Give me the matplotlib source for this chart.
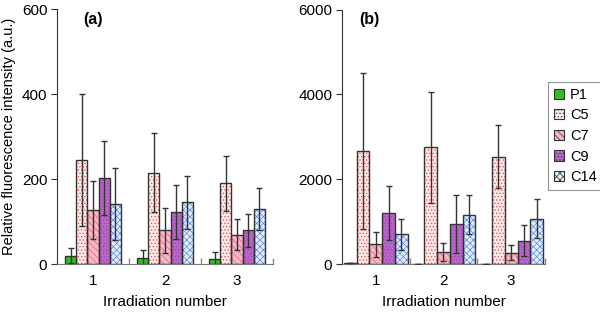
import matplotlib
matplotlib.use("Agg")
import matplotlib.pyplot as plt
from matplotlib.patches import Patch
import numpy as np

plt.rcParams['font.family'] = ['Liberation Sans', 'DejaVu Sans']
plt.rcParams['hatch.linewidth'] = 0.5

groups = [1, 2, 3]
series = ["P1", "C5", "C7", "C9", "C14"]

# Panel (a)
a_P1 = [20, 15, 12]
a_C5 = [245, 215, 190]
a_C7 = [128, 79, 69]
a_C9 = [203, 123, 79]
a_C14 = [141, 145, 129]
a_P1_err = [17, 17, 16]
a_C5_err = [155, 93, 65]
a_C7_err = [68, 53, 37]
a_C9_err = [88, 63, 40]
a_C14_err = [85, 62, 50]

# Panel (b)
b_P1 = [25, 10, 10]
b_C5 = [2660, 2750, 2530]
b_C7 = [465, 280, 268]
b_C9 = [1210, 940, 552]
b_C14 = [700, 1165, 1070]
b_P1_err = [0, 0, 0]
b_C5_err = [1840, 1310, 750]
b_C7_err = [300, 215, 175]
b_C9_err = [640, 680, 360]
b_C14_err = [365, 460, 460]

a_yticks = [0, 200, 400, 600]
b_yticks = [0, 2000, 4000, 6000]

styles = {
    "P1": dict(face="#2fbf1f", hatch=None, hcol="#1a8a10"),
    "C5": dict(face="#fde8e8", hatch=".....", hcol="#f04848"),
    "C7": dict(face="#f7b8c4", hatch="\\\\\\\\\\", hcol="#e85a80"),
    "C9": dict(face="#b865c8", hatch=".....", hcol="#a048b4"),
    "C14": dict(face="#e2ecfc", hatch="xxxxx", hcol="#5a8ae8"),
}
edge = "#333333"

fig = plt.figure(figsize=(6.0, 3.13), dpi=100)
axA = fig.add_axes([57/600, 1-264/313, (273-57)/600, (264-9.5)/313])
axB = fig.add_axes([342/600, 1-264/313, (545-342)/600, (264-9.5)/313])

def draw(ax, vals, errs, width, ymax, yticks, label):
    x = np.array(groups, dtype=float)
    n = len(series)
    for i, (name, v, e) in enumerate(zip(series, vals, errs)):
        pos = x + (i - (n - 1) / 2) * width
        st = styles[name]
        ax.bar(pos, v, width=width, color=st["face"], edgecolor=st["hcol"],
               hatch=st["hatch"], linewidth=0, zorder=2)
        ax.bar(pos, v, width=width, fill=False, edgecolor=edge, linewidth=1.0, zorder=3)
        ax.errorbar(pos, v, yerr=e, fmt='none', ecolor=edge, elinewidth=1.0,
                    capsize=2.5, capthick=1.0, zorder=4)
    ax.set_xlim(0.5, 3.5)
    ax.set_ylim(0, ymax)
    ax.set_yticks(yticks)
    ax.set_xticks(groups)
    ax.set_xticklabels([str(g) for g in groups])
    ax.set_xticks([1.5, 2.5, 3.5], minor=True)
    ax.tick_params(axis='x', which='major', length=0, labelsize=11, pad=7)
    ax.tick_params(axis='x', which='minor', direction='in', length=4, color='#888888', width=1)
    ax.tick_params(axis='y', which='major', direction='out', length=4, labelsize=11, color=edge, pad=3)
    for s in ['top', 'right']:
        ax.spines[s].set_visible(False)
    ax.spines['left'].set_color(edge)
    ax.spines['bottom'].set_color('#777777')
    ax.set_xlabel("Irradiation number", fontsize=11, labelpad=5)
    ax.text(0.12, 0.99, label, transform=ax.transAxes, fontsize=11.5,
            fontweight='bold', va='top', ha='left')

draw(axA, [a_P1, a_C5, a_C7, a_C9, a_C14], [a_P1_err, a_C5_err, a_C7_err, a_C9_err, a_C14_err],
     0.156, 600, a_yticks, "(a)")
draw(axB, [b_P1, b_C5, b_C7, b_C9, b_C14], [b_P1_err, b_C5_err, b_C7_err, b_C9_err, b_C14_err],
     0.188, 6000, b_yticks, "(b)")
axB.texts[0].set_position((0.085, 0.99))
axA.set_ylabel("Relative fluorescence intensity (a.u.)", fontsize=10.5, labelpad=4)

handles = [Patch(facecolor=styles[s]["face"], edgecolor=edge, hatch=styles[s]["hatch"],
                 linewidth=0.8) for s in series]
leg = fig.legend(handles, series, loc='upper left', bbox_to_anchor=(548/600, 1-82/313),
                 frameon=True, fancybox=False, fontsize=10.5, handlelength=0.7,
                 handleheight=0.7, handletextpad=0.4, labelspacing=0.45,
                 borderpad=0.4, borderaxespad=0)
leg.get_frame().set_edgecolor('#777777')
leg.get_frame().set_linewidth(0.8)

fig.savefig("out.png", dpi=100)
